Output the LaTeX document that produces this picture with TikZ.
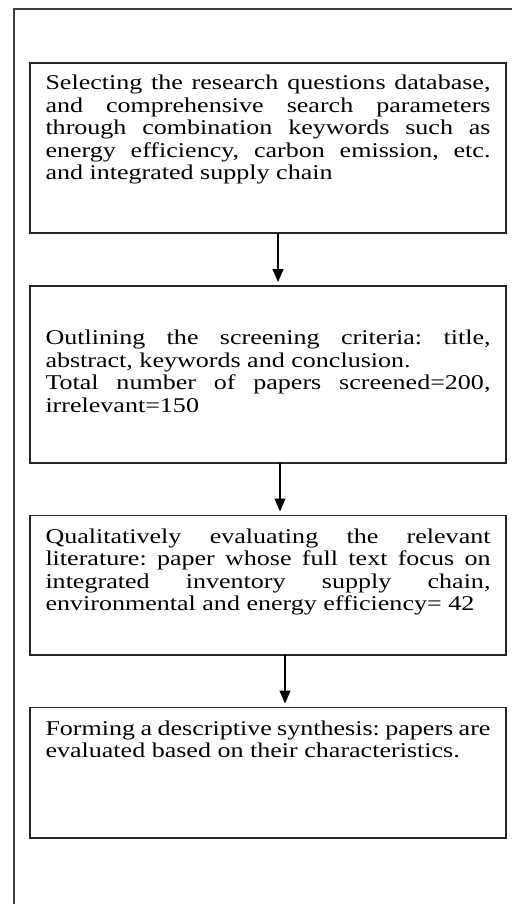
\documentclass[tikz,border=0pt]{standalone}
\usepackage{fontspec}
\setmainfont[FakeStretch=1.24]{Liberation Serif}
\usetikzlibrary{positioning}
\usetikzlibrary{arrows.meta}

\newcommand{\flowtext}[3]{\parbox[c][#1][t]{445pt}{\frenchspacing\tolerance=9999\hbadness=10000\adjdemerits=0\vspace*{#2}\strut #3}}

\begin{document}
\begin{tikzpicture}[
		x=1pt, y=1pt,
		>={Triangle[length=13pt, width=11pt]},
		flowbox/.style={draw=black!85, line width=1.2pt, inner xsep=15.5pt, inner ysep=0pt,
			outer sep=0pt, font=\fontsize{21pt}{22.5pt}\selectfont},
		flowarrow/.style={->, line width=1.2pt, shorten >=4pt}
		]
		
		\useasboundingbox (0,0) rectangle (512,-904);
		\draw[line width=1.2pt, black!75] (512,-9) -- (14,-9) -- (14,-904);
		
		\node[flowbox, anchor=north west] (select) at (30,-63) {\flowtext{170pt}{11pt}{Selecting the research questions database,\linebreak and comprehensive search parameters\linebreak through combination keywords such as\linebreak energy efficiency, carbon emission, etc.\linebreak and integrated supply chain}};
		\node[flowbox, below=53pt of select] (screen) {\flowtext{177pt}{43pt}{Outlining the screening criteria: title,\linebreak abstract, keywords and conclusion.\\ Total number of papers screened=200,\linebreak irrelevant=150}};
		\node[flowbox, below=52.5pt of screen] (evaluate) {\flowtext{139.5pt}{12pt}{Qualitatively evaluating the relevant\linebreak literature: paper whose full text focus on\linebreak integrated inventory supply chain,\linebreak environmental and energy efficiency= 42}};
		\node[flowbox, below=52.5pt of evaluate] (synth) {\flowtext{130.5pt}{12pt}{Forming a descriptive synthesis: papers are\linebreak evaluated based on their characteristics.}};
		
		\draw[flowarrow] ([xshift=10pt]select.south) -- ([xshift=10pt]screen.north);
		\draw[flowarrow] ([xshift=12pt]screen.south) -- ([xshift=12pt]evaluate.north);
		\draw[flowarrow] ([xshift=17pt]evaluate.south) -- ([xshift=17pt]synth.north);
	\end{tikzpicture}
\end{document}
